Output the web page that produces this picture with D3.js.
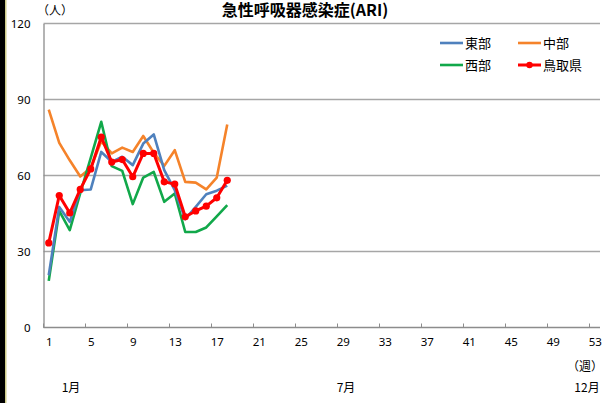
<!DOCTYPE html>
<html>
<head>
<meta charset="utf-8">
<script src="https://cdn.jsdelivr.net/npm/d3@7"></script>
<style>
  html, body { margin: 0; padding: 0; background: #fff; }
  svg { display: block; }
  text { font-family: "Noto Sans CJK JP", "Noto Sans", sans-serif; fill: #000; }
</style>
</head>
<body>
<svg id="chart" width="612" height="403"></svg>
<script>
// Weekly ARI patient counts per region (weeks 1-18 reported)
const weeks = d3.range(1, 54);
const tickWeeks = [1, 5, 9, 13, 17, 21, 25, 29, 33, 37, 41, 45, 49, 53];
const yTicks = [0, 30, 60, 90, 120];

const east    = [20.6, 47.6, 41.7, 54.2, 54.5, 69.3, 65.4, 67.4, 64.1, 72.6, 76.2, 62.1, 54.2, 42.8, 47.6, 52.6, 54.0, 56.0];
const central = [86.0, 72.9, 66.0, 59.6, 63.0, 73.5, 68.7, 71.0, 69.3, 75.6, 69.0, 63.8, 70.0, 57.5, 57.2, 54.5, 59.2, 80.1];
const west    = [18.4, 46.0, 38.4, 53.0, 67.0, 81.2, 63.7, 61.8, 48.7, 59.2, 61.4, 49.6, 52.9, 37.7, 37.7, 39.5, 43.9, 48.3];
const tottori = [33.4, 52.1, 45.2, 54.5, 62.6, 75.2, 65.3, 66.3, 59.5, 68.7, 68.7, 57.5, 56.6, 43.7, 46.0, 47.9, 51.2, 58.1];

const seriesNames = ["東部", "中部", "西部", "鳥取県"];
const monthLabels = ["1月", "7月", "12月"];

const svg = d3.select("#chart");

// frame strip on the left edge
svg.append("rect").attr("x", 0).attr("y", 0).attr("width", 5).attr("height", 403).attr("fill", "#000");
svg.append("line").attr("x1", 5.75).attr("x2", 5.75).attr("y1", 0).attr("y2", 403)
  .attr("stroke", "#cfcc8a").attr("stroke-width", 1.5);

const plot = { left: 43.5, right: 600, top: 23.5, bottom: 327.5 };

const x = d3.scalePoint().domain(weeks).range([plot.left, plot.right]).padding(0.5);
const y = d3.scaleLinear().domain([0, 120]).range([plot.bottom, plot.top]);

// horizontal gridlines
svg.append("g").selectAll("line").data(yTicks.filter(v => v > 0)).join("line")
  .attr("x1", plot.left).attr("x2", plot.right)
  .attr("y1", d => y(d)).attr("y2", d => y(d))
  .attr("stroke", "#a6a6a6").attr("stroke-width", 1.3);

// y axis
const yAxis = d3.axisLeft(y).tickValues(yTicks).tickSize(0).tickPadding(13);
const gy = svg.append("g").attr("transform", `translate(${plot.left},0)`).call(yAxis);
gy.select(".domain").attr("stroke", "#8c8c8c").attr("stroke-width", 1.3);
gy.selectAll("text").attr("font-size", 11.5).style("font-family", "'Noto Sans', sans-serif");

// x axis with marks every four weeks
const step = x.step();
const xAxis = d3.axisBottom(x).tickValues(tickWeeks).tickSize(0).tickPadding(10);
const gx = svg.append("g").attr("transform", `translate(0,${plot.bottom})`).call(xAxis);
gx.select(".domain").remove();
gx.append("line").attr("x1", plot.left).attr("x2", plot.right).attr("y1", 0).attr("y2", 0)
  .attr("stroke", "#8c8c8c").attr("stroke-width", 1.3);
gx.selectAll("text").attr("font-size", 11.5).style("font-family", "'Noto Sans', sans-serif");
gx.append("g").selectAll("line").data(tickWeeks).join("line")
  .attr("x1", d => x(d) - step / 2).attr("x2", d => x(d) - step / 2)
  .attr("y1", 0).attr("y2", -4)
  .attr("stroke", "#8c8c8c").attr("stroke-width", 1);

// unit labels
svg.append("text").attr("x", 37).attr("y", 15).attr("font-size", 12).text("（人）");
svg.append("text").attr("x", 603).attr("y", 371).attr("font-size", 12).attr("text-anchor", "end").text("（週）");

// month labels
const monthX = [71, 346, 587];
svg.append("g").selectAll("text").data(monthLabels).join("text")
  .attr("x", (d, i) => monthX[i]).attr("y", 392)
  .attr("font-size", 12).attr("text-anchor", "middle").text(d => d);

// title
svg.append("text").attr("x", 305).attr("y", 16).attr("text-anchor", "middle")
  .attr("font-size", 16).attr("font-weight", "bold").text("急性呼吸器感染症(ARI)");

// series lines
const series = [
  { name: seriesNames[0], values: east,    color: "#4f81bd", width: 2.6, marker: false },
  { name: seriesNames[1], values: central, color: "#f5832a", width: 2.6, marker: false },
  { name: seriesNames[2], values: west,    color: "#11a84a", width: 2.6, marker: false },
  { name: seriesNames[3], values: tottori, color: "#ff0000", width: 3.0, marker: true }
];

const line = d3.line().x((d, i) => x(weeks[i])).y(d => y(d));

const drawOrder = [1, 2, 0, 3];
drawOrder.forEach(k => {
  const s = series[k];
  svg.append("path").datum(s.values)
    .attr("d", line).attr("fill", "none")
    .attr("stroke", s.color).attr("stroke-width", s.width)
    .attr("stroke-linejoin", "round");
  if (s.marker) {
    svg.append("g").selectAll("circle").data(s.values).join("circle")
      .attr("cx", (d, i) => x(weeks[i])).attr("cy", d => y(d))
      .attr("r", 3.6).attr("fill", s.color);
  }
});

// legend
const legendPos = [[440, 43], [518, 43], [440, 65], [518, 65]];
const lg = svg.append("g");
series.forEach((s, i) => {
  const [lx, ly] = legendPos[i];
  lg.append("line").attr("x1", lx).attr("x2", lx + 23).attr("y1", ly).attr("y2", ly)
    .attr("stroke", s.color).attr("stroke-width", s.width);
  if (s.marker) {
    lg.append("circle").attr("cx", lx + 11.5).attr("cy", ly).attr("r", 3.2).attr("fill", s.color);
  }
  lg.append("text").attr("x", lx + 25).attr("y", ly + 4.5).attr("font-size", 13).text(s.name);
});
</script>
</body>
</html>
